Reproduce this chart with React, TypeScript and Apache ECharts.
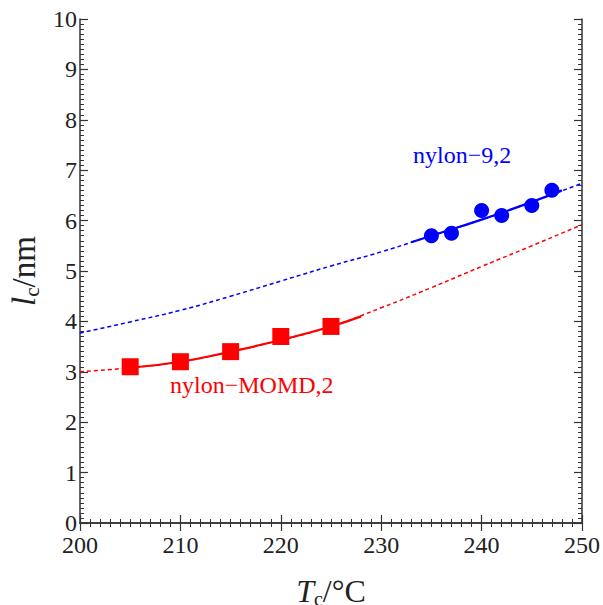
import React, { useEffect, useRef } from "react";
import * as echarts from "echarts";

const xTicks = [200, 210, 220, 230, 240, 250];
const yTicks = [0, 1, 2, 3, 4, 5, 6, 7, 8, 9, 10];

const momdX = [205, 210, 215, 220, 225];
const momdY = [3.1, 3.2, 3.4, 3.7, 3.9];

const n92X = [235, 237, 240, 242, 245, 247];
const n92Y = [5.7, 5.75, 6.2, 6.1, 6.3, 6.6];

const redFitX = [200, 205, 210, 215, 220, 225, 230, 235, 240, 245, 250];
const redFitY = [3.0, 3.08, 3.2, 3.4, 3.63, 3.9, 4.27, 4.67, 5.09, 5.5, 5.92];
const redSolidX = [205, 210, 215, 220, 225, 228];
const redSolidY = [3.08, 3.2, 3.4, 3.63, 3.9, 4.1];

const blueFitX = [200, 205, 210, 215, 220, 225, 230, 235, 240, 245, 250];
const blueFitY = [3.77, 3.99, 4.22, 4.5, 4.8, 5.1, 5.38, 5.7, 6.02, 6.37, 6.74];
const blueSolidX = [233, 235, 240, 245, 248];
const blueSolidY = [5.57, 5.7, 6.02, 6.37, 6.6];

const zip = (xs: number[], ys: number[]) => xs.map((x, i) => [x, ys[i]]);

const FONT = "Liberation Serif";
const RED = "#ff0000";
const BLUE = "#0000ff";

export default function App() {
  const ref = useRef<HTMLDivElement>(null);
  useEffect(() => {
    document.body.style.margin = "0";
    if (!ref.current) return;
    const chart = echarts.init(ref.current, null, { renderer: "svg" });
    const axisLine = { show: true, lineStyle: { color: "#333", width: 1.5 } };
    const tick = { show: true, inside: true, length: 8, lineStyle: { color: "#333", width: 1.2 } };
    const minor = { show: true, splitNumber: 10, length: 4, lineStyle: { color: "#333", width: 1 } };
    chart.setOption({
      animation: false,
      backgroundColor: "#fff",
      grid: { left: 80, right: 21, top: 19, bottom: 82, outerBoundsMode: "none", containLabel: false },
      xAxis: [
        {
          type: "value",
          min: 200,
          max: 250,
          interval: 10,
          position: "bottom",
          axisLine,
          axisTick: tick,
          minorTick: minor,
          splitLine: { show: false },
          axisLabel: {
            color: "#222",
            fontFamily: FONT,
            fontSize: 24,
            margin: 10,
            formatter: (v: number) => (xTicks.includes(v) ? String(v) : ""),
          },
          name: "{i|T}{s|c}{n|/°C}",
          nameLocation: "middle",
          nameGap: 52,
          nameTextStyle: {
            rich: {
              i: { fontFamily: FONT, fontStyle: "italic", fontSize: 32, color: "#222", verticalAlign: "top" },
              s: { fontFamily: FONT, fontSize: 20, color: "#222", verticalAlign: "bottom", padding: [14, 0, 0, 0] },
              n: { fontFamily: FONT, fontSize: 32, color: "#222", verticalAlign: "top" },
            },
          },
        },
        {
          type: "value",
          min: 200,
          max: 250,
          interval: 10,
          position: "top",
          axisLine,
          axisTick: tick,
          minorTick: minor,
          splitLine: { show: false },
          axisLabel: { show: false },
        },
      ],
      yAxis: [
        {
          type: "value",
          min: 0,
          max: 10,
          interval: 1,
          position: "left",
          axisLine,
          axisTick: tick,
          minorTick: minor,
          splitLine: { show: false },
          axisLabel: {
            color: "#222",
            fontFamily: FONT,
            fontSize: 24,
            margin: 3,
            formatter: (v: number) => (yTicks.includes(v) ? String(v) : ""),
          },
          name: "{i|l}{s|c}{n|/nm}",
          nameLocation: "middle",
          nameGap: 24,
          nameRotate: 90,
          nameTextStyle: {
            rich: {
              i: { fontFamily: FONT, fontStyle: "italic", fontSize: 33, color: "#222", verticalAlign: "top" },
              s: { fontFamily: FONT, fontSize: 21, color: "#222", verticalAlign: "bottom", padding: [14, 0, 0, 0] },
              n: { fontFamily: FONT, fontSize: 33, color: "#222", verticalAlign: "top" },
            },
          },
        },
        {
          type: "value",
          min: 0,
          max: 10,
          interval: 1,
          position: "right",
          axisLine,
          axisTick: tick,
          minorTick: minor,
          splitLine: { show: false },
          axisLabel: { show: false },
        },
      ],
      series: [
        {
          type: "line",
          data: zip(redFitX, redFitY),
          smooth: true,
          showSymbol: false,
          lineStyle: { color: RED, width: 1.5, type: [4, 3] },
          z: 1,
        },
        {
          type: "line",
          data: zip(blueFitX, blueFitY),
          smooth: true,
          showSymbol: false,
          lineStyle: { color: BLUE, width: 1.5, type: [4, 3] },
          z: 1,
        },
        {
          type: "line",
          data: zip(redSolidX, redSolidY),
          smooth: true,
          showSymbol: false,
          lineStyle: { color: RED, width: 2.2 },
          z: 2,
        },
        {
          type: "line",
          data: zip(blueSolidX, blueSolidY),
          smooth: true,
          showSymbol: false,
          lineStyle: { color: BLUE, width: 2.2 },
          z: 2,
        },
        {
          type: "scatter",
          data: zip(momdX, momdY),
          symbol: "rect",
          symbolSize: 17,
          itemStyle: { color: RED, opacity: 1 },
          z: 3,
        },
        {
          type: "scatter",
          data: zip(n92X, n92Y),
          symbol: "circle",
          symbolSize: 15,
          itemStyle: { color: BLUE, opacity: 1 },
          z: 3,
        },
      ],
      graphic: [
        {
          type: "text",
          left: 413,
          top: 143,
          style: { text: "nylon\u22129,2", fill: BLUE, fontFamily: FONT, fontSize: 24 },
        },
        {
          type: "text",
          left: 170,
          top: 373,
          style: { text: "nylon\u2212MOMD,2", fill: RED, fontFamily: FONT, fontSize: 24 },
        },
      ],
    });
    return () => chart.dispose();
  }, []);
  return <div ref={ref} style={{ width: 603, height: 605 }} />;
}
